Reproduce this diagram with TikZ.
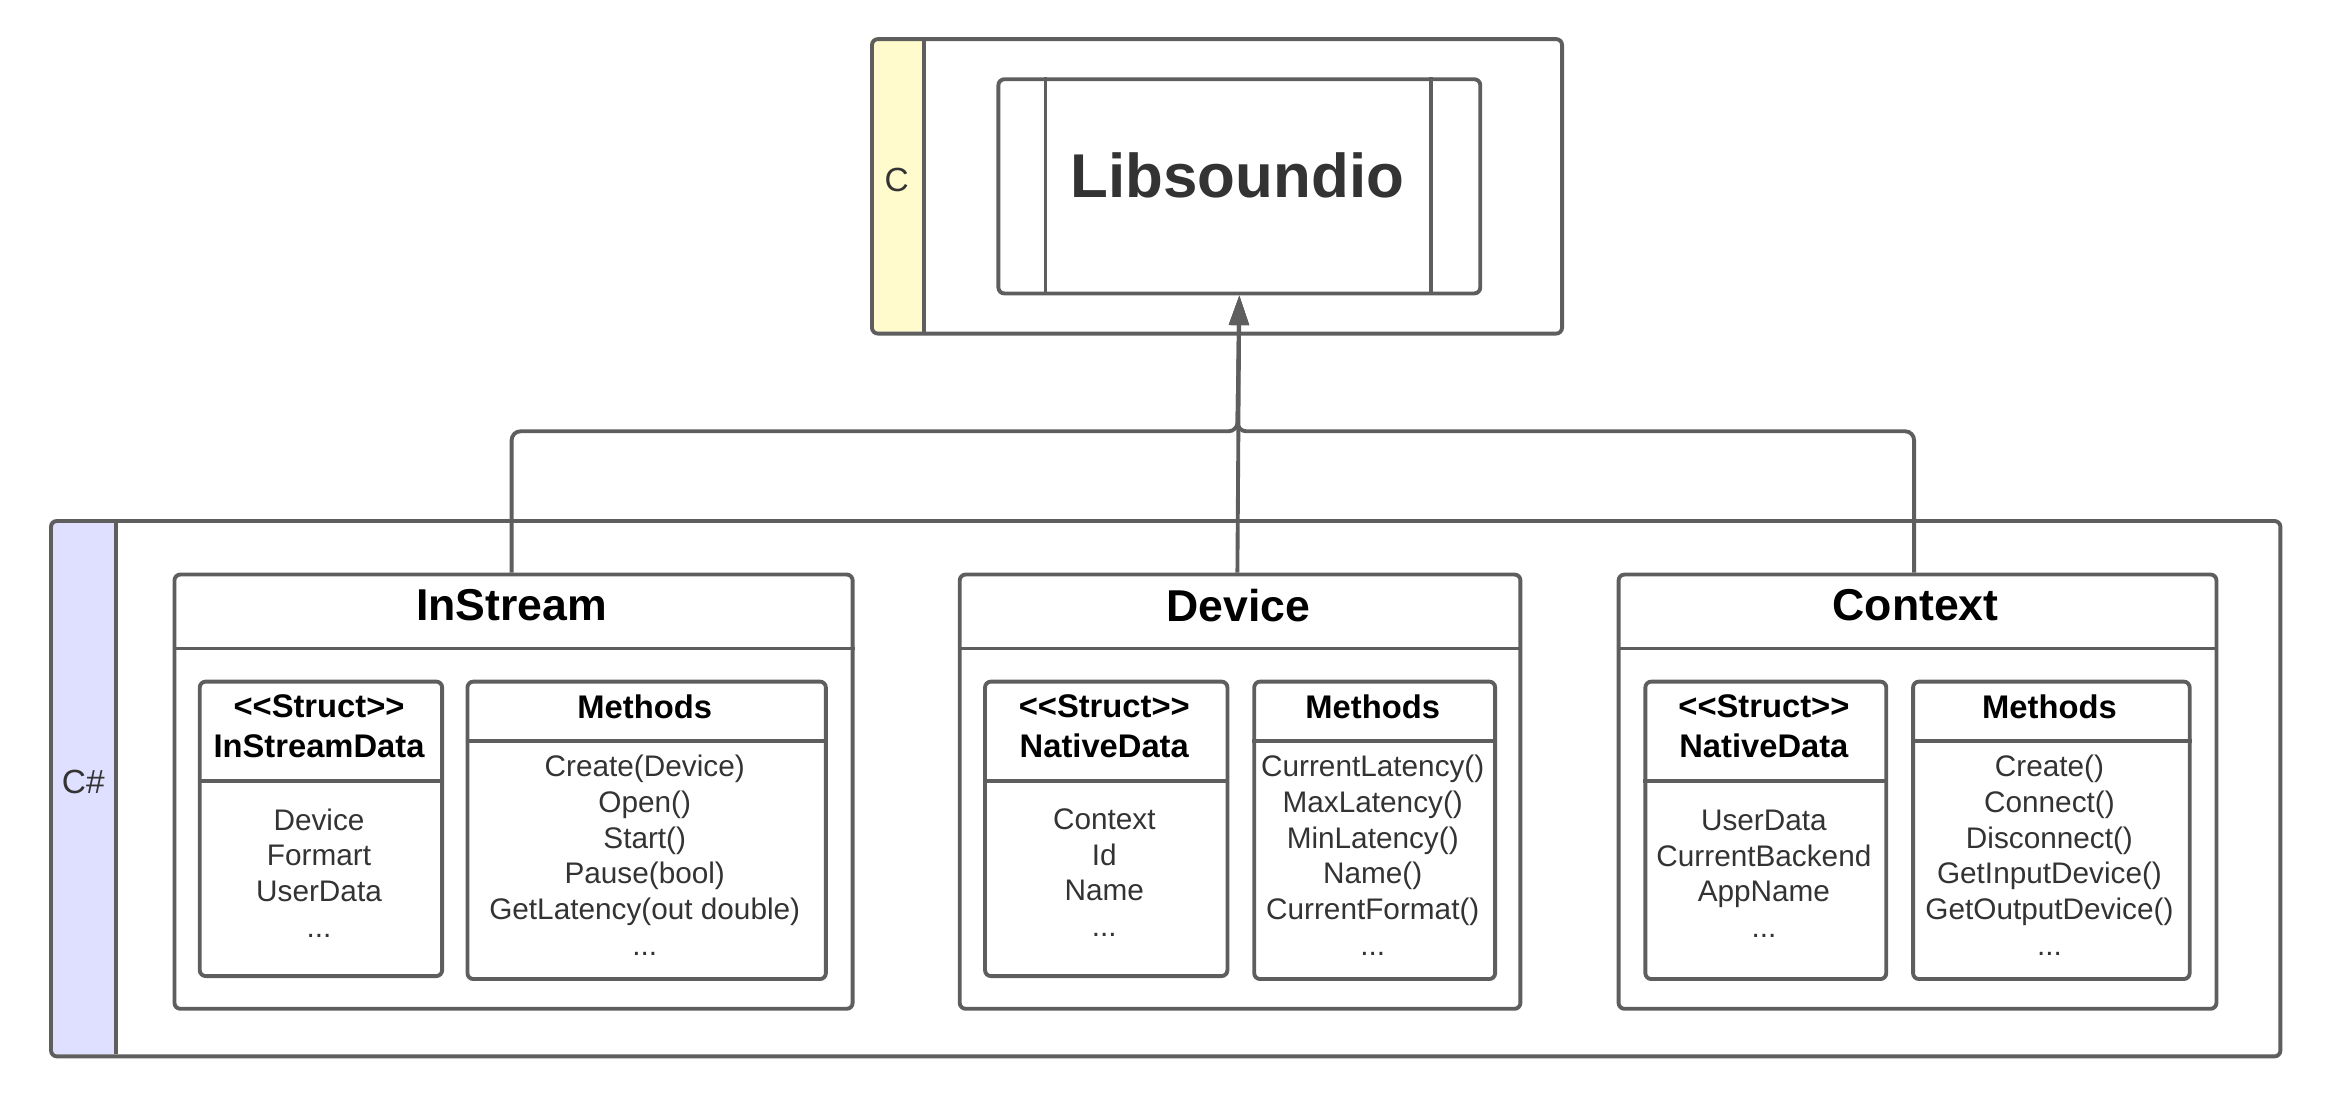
\documentclass[tikz,border=0pt]{standalone}
\usepackage{fontspec}
\setmainfont{Liberation Sans}
\usetikzlibrary{arrows.meta}
\definecolor{linec}{HTML}{5E5E5E}
\definecolor{txt}{HTML}{333333}
\definecolor{ystrip}{HTML}{FFFBCC}
\definecolor{pstrip}{HTML}{DFDFFF}
\begin{document}
\begin{tikzpicture}[x=1pt,y=-1pt,
  box/.style={draw=linec, line width=2.6pt, rounded corners=4pt, anchor=north west, inner sep=0pt},
  sepline/.style={draw=linec, line width=2.6pt},
  conn/.style={draw=linec, line width=2.6pt, rounded corners=6pt, -{Triangle[length=20pt,width=13pt]}},
  bigttl/.style={font=\fontsize{41.6}{48}\selectfont\bfseries, text=txt, inner sep=0pt},
  clsttl/.style={font=\fontsize{30}{36}\selectfont\bfseries, text=black, inner sep=0pt},
  subttl/.style={font=\fontsize{22}{27}\selectfont\bfseries, text=black, inner sep=0pt, align=center},
  itm/.style={font=\fontsize{20}{24}\selectfont, text=txt, inner sep=0pt, align=center, anchor=north},
  lane/.style={font=\fontsize{22.5}{26}\selectfont, text=txt, inner sep=0pt}
]
\useasboundingbox (0,0) rectangle (1568,741);

% ---- strips (backgrounds) ----
\fill[ystrip] (621,25) {[rounded corners=4pt] -- (585,25) -- (585,223)} -- (621,223) -- cycle;
\fill[pstrip] (78,349) {[rounded corners=4pt] -- (33,349) -- (33,709)} -- (78,709) -- cycle;

% ---- C container ----
\node[box, minimum width=464pt, minimum height=198pt] (cbox) at (585,25) {};
\draw[sepline] (621,25) -- (621,223);
\node[lane] (clabel) at (603,121) {C};

\node[box, minimum width=324pt, minimum height=144pt] (lib) at (670,52) {};
\draw[sepline] (703,52) -- (703,196);
\draw[sepline] (962,52) -- (962,196);
\node[bigttl] (libtxt) at (832,118) {Libsoundio};

% ---- C# container ----
\node[box, minimum width=1499pt, minimum height=360pt] (csbox) at (33,349) {};
\draw[sepline] (78,349) -- (78,709);
\node[lane] (cslabel) at (56,526) {C\#};

% ---- InStream ----
\node[box, minimum width=456pt, minimum height=292pt] (ins) at (116,385) {};
\draw[sepline] (ins.west |- 0,436) -- (ins.east |- 0,436);
\node[clsttl] (insT) at (344,407) {InStream};

\node[box, minimum width=163pt, minimum height=198pt] (insS) at (133,457) {};
\draw[sepline] (insS.west |- 0,525) -- (insS.east |- 0,525);
\node[subttl, anchor=north] (insST) at (214.5,467) {{<}{<}Struct{>}{>}\\InStreamData};
\node[itm] (insSI) at (214.5,543.5) {Device\\Formart\\UserData\\...};

\node[box, minimum width=241pt, minimum height=200pt] (insM) at (313,457) {};
\draw[sepline] (insM.west |- 0,498) -- (insM.east |- 0,498);
\node[subttl] (insMT) at (433.5,475) {Methods};
\node[itm] (insMI) at (433.5,507.5) {Create(Device)\\Open()\\Start()\\Pause(bool)\\GetLatency(out double)\\...};

% ---- Device ----
\node[box, minimum width=377pt, minimum height=292pt] (dev) at (644,385) {};
\draw[sepline] (dev.west |- 0,436) -- (dev.east |- 0,436);
\node[clsttl] (devT) at (832.5,407) {Device};

\node[box, minimum width=163pt, minimum height=198pt] (devS) at (661,457) {};
\draw[sepline] (devS.west |- 0,525) -- (devS.east |- 0,525);
\node[subttl, anchor=north] (devST) at (742.5,467) {{<}{<}Struct{>}{>}\\NativeData};
\node[itm] (devSI) at (742.5,543.5) {Context\\Id\\Name\\...};

\node[box, minimum width=162pt, minimum height=200pt] (devM) at (842,457) {};
\draw[sepline] (devM.west |- 0,498) -- (devM.east |- 0,498);
\node[subttl] (devMT) at (923,475) {Methods};
\node[itm] (devMI) at (923,507.5) {CurrentLatency()\\MaxLatency()\\MinLatency()\\Name()\\CurrentFormat()\\...};

% ---- Context ----
\node[box, minimum width=402pt, minimum height=292pt] (ctx) at (1087,385) {};
\draw[sepline] (ctx.west |- 0,436) -- (ctx.east |- 0,436);
\node[clsttl] (ctxT) at (1288,407) {Context};

\node[box, minimum width=162pt, minimum height=200pt] (ctxS) at (1105,457) {};
\draw[sepline] (ctxS.west |- 0,525) -- (ctxS.east |- 0,525);
\node[subttl, anchor=north] (ctxST) at (1186,467) {{<}{<}Struct{>}{>}\\NativeData};
\node[itm] (ctxSI) at (1186,544.5) {UserData\\CurrentBackend\\AppName\\...};

\node[box, minimum width=186pt, minimum height=200pt] (ctxM) at (1285,457) {};
\draw[sepline] (ctxM.west |- 0,498) -- (ctxM.east |- 0,498);
\node[subttl] (ctxMT) at (1378,475) {Methods};
\node[itm] (ctxMI) at (1378,507.5) {Create()\\Connect()\\Disconnect()\\GetInputDevice()\\GetOutputDevice()\\...};

% ---- connectors ----
\coordinate (j) at (832,290);
\draw[conn] (ins.north -| 344,0) |- (j) -- (lib.south);
\draw[conn] (ctx.north -| 1287,0) |- (j) -- (lib.south);
\draw[conn] (dev.north -| 832,0) -- (lib.south);
\end{tikzpicture}
\end{document}
